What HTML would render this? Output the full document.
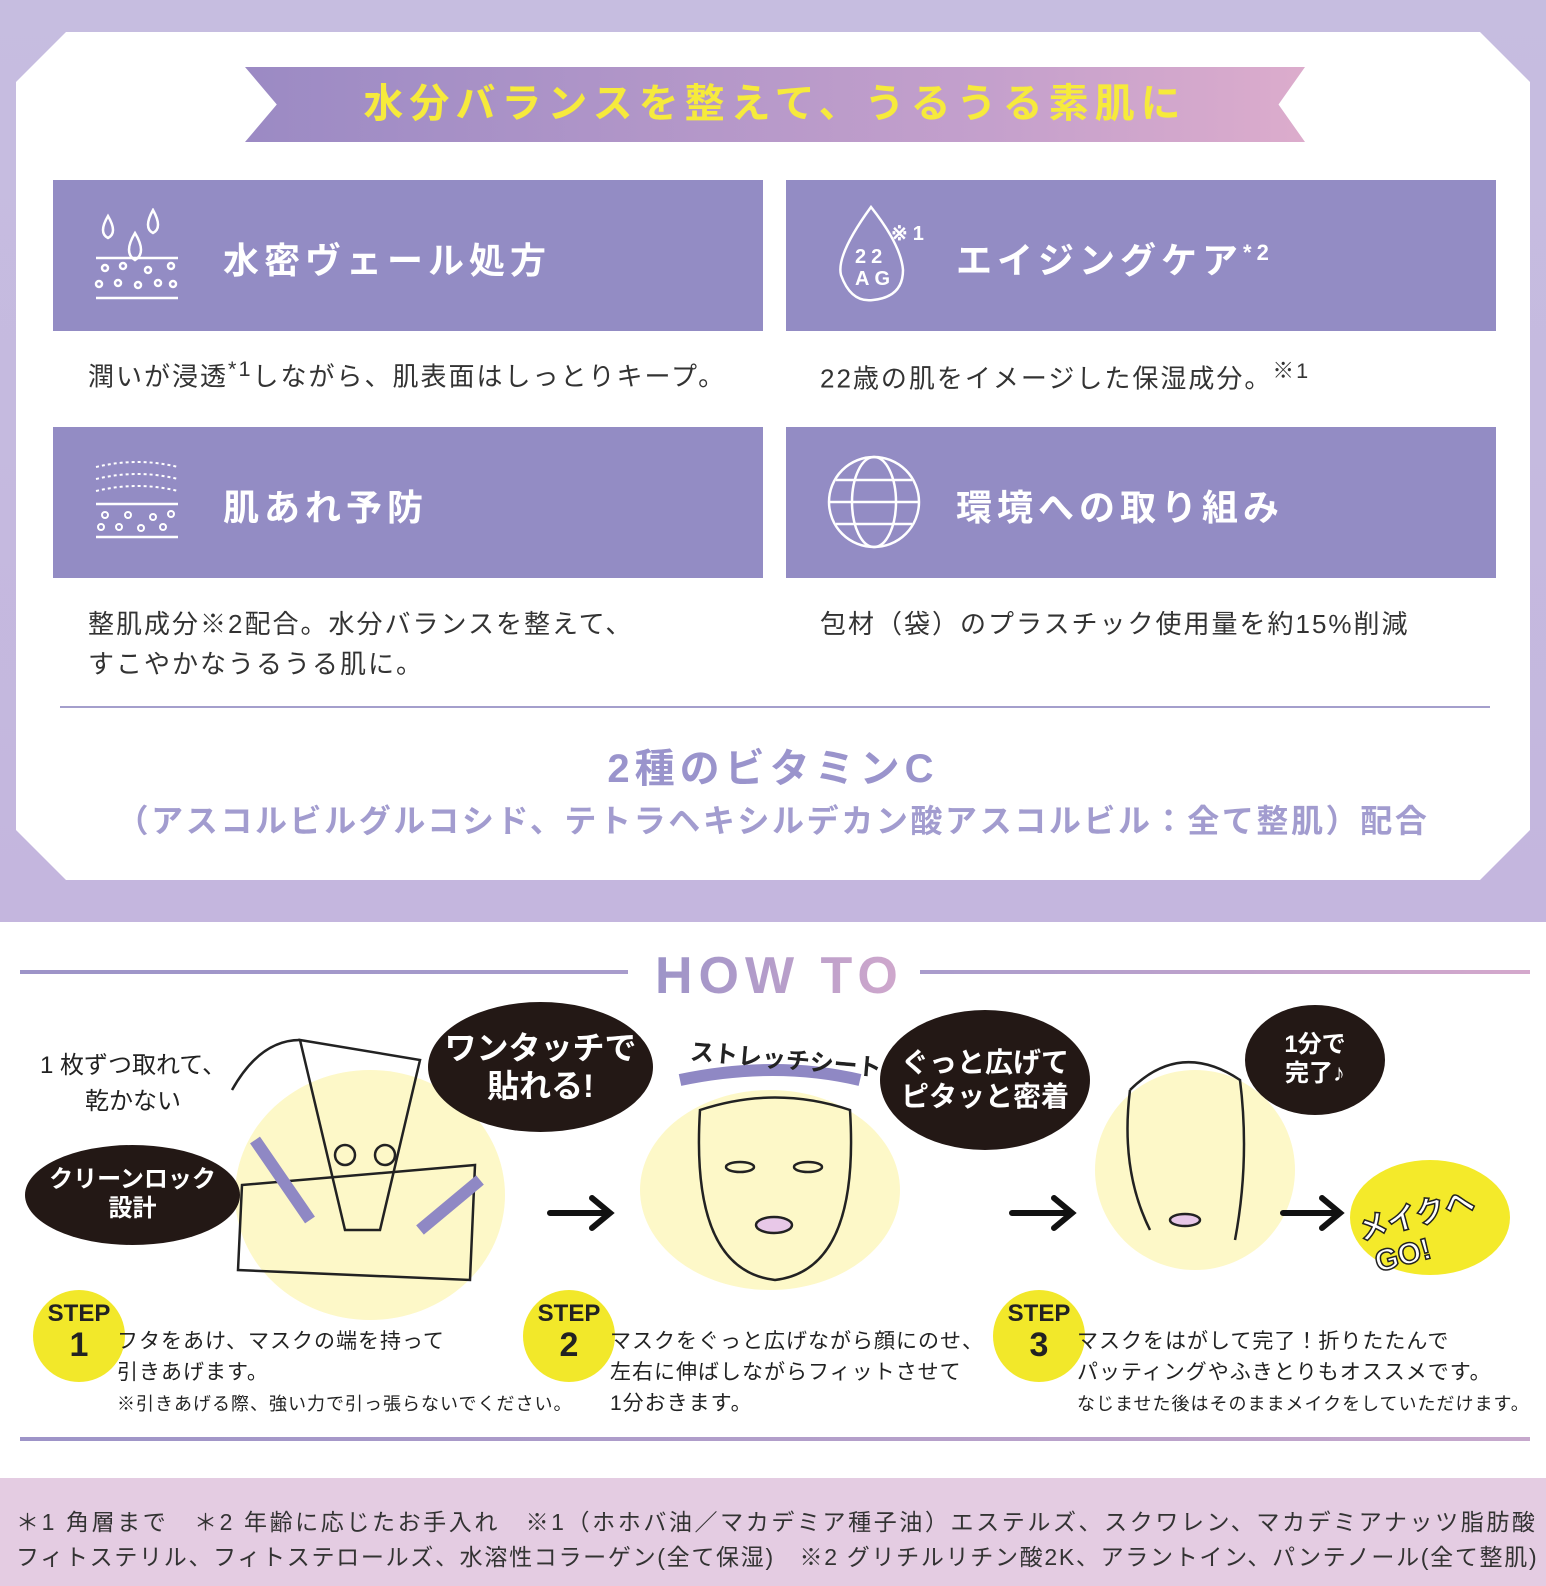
<!DOCTYPE html>
<html><head><meta charset="utf-8"><style>
*{margin:0;padding:0;box-sizing:border-box}
body{width:1546px;height:1586px;position:relative;overflow:hidden;background:#fff;font-family:"Liberation Sans","Noto Sans CJK JP",sans-serif;color:#333}
.a{position:absolute}
.top{left:0;top:0;width:1546px;height:922px;background:linear-gradient(#c6bde0,#c4b6de)}
.panel{left:16px;top:32px;width:1514px;height:848px;background:#fff;clip-path:polygon(50px 0,1464px 0,1514px 50px,1514px 798px,1464px 848px,50px 848px,0 798px,0 50px)}
.banner{left:245px;top:67px;width:1060px;height:75px;background:linear-gradient(90deg,#9b8ac4,#c4a0cc 70%,#dcaccc);clip-path:polygon(0 0,100% 0,97.5% 50%,100% 100%,0 100%,3% 50%);color:#f6ea3c;font-size:40px;font-weight:bold;letter-spacing:6px;text-align:center;line-height:75px}
.box{background:#938cc4;height:151px;width:710px;color:#fff;font-size:36px;font-weight:bold;letter-spacing:5px}
.box span{position:absolute;left:170px;top:52px}
.t{font-size:26px;letter-spacing:2px;color:#333}
.bub{background:#231815;color:#fff;border-radius:50%;font-weight:bold;text-align:center;display:flex;align-items:center;justify-content:center;line-height:1.2}
.yc{background:#fdf8c8;border-radius:50%}
.step{width:92px;height:92px;border-radius:50%;background:#f2e82a;text-align:center;font-weight:bold;color:#222}
.step b{display:block;font-size:24px;margin-top:12px;line-height:24px}
.step i{display:block;font-style:normal;font-size:34px;line-height:38px}
.st{font-size:21px;line-height:31px;color:#222;letter-spacing:1px}
</style></head><body>
<div class="a top"></div>
<div class="a panel"></div>
<div class="a banner">水分バランスを整えて、うるうる素肌に</div>

<div class="a box" style="left:53px;top:180px"><svg class="a" style="left:40px;top:28px" width="90" height="95" viewBox="0 0 90 95" fill="none" stroke="#fff" stroke-width="2.5"><path d="M15 8 Q5 25 15 30 Q25 25 15 8Z M60 2 Q50 20 60 25 Q70 20 60 2Z M42 25 Q30 45 42 52 Q54 45 42 25Z"/><line x1="3" y1="50" x2="85" y2="50"/><line x1="3" y1="90" x2="85" y2="90"/><circle cx="12" cy="60" r="3"/><circle cx="30" cy="58" r="3"/><circle cx="55" cy="62" r="3"/><circle cx="78" cy="58" r="3"/><circle cx="6" cy="76" r="3"/><circle cx="25" cy="75" r="3"/><circle cx="45" cy="77" r="3"/><circle cx="65" cy="75" r="3"/><circle cx="80" cy="76" r="3"/></svg><span>水密ヴェール処方</span></div>
<div class="a box" style="left:786px;top:180px"><svg class="a" style="left:45px;top:25px" width="100" height="100" viewBox="0 0 100 100" fill="none" stroke="#fff" stroke-width="2.5"><path d="M40 2 Q5 50 10 70 Q20 98 42 95 Q72 92 72 65 Q70 40 40 2Z"/><text x="24" y="58" fill="#fff" stroke="none" font-size="20" font-family="Liberation Sans">22</text><text x="24" y="80" fill="#fff" stroke="none" font-size="20" font-family="Liberation Sans">AG</text><text x="60" y="35" fill="#fff" stroke="none" font-size="20" font-family="Liberation Sans">※1</text></svg><span>エイジングケア<sup style="font-size:22px">*2</sup></span></div>
<div class="a t" style="left:88px;top:356px">潤いが浸透<sup>*1</sup>しながら、肌表面はしっとりキープ。</div>
<div class="a t" style="left:820px;top:354px">22歳の肌をイメージした保湿成分。<sup>※1</sup></div>

<div class="a box" style="left:53px;top:427px"><svg class="a" style="left:40px;top:30px" width="90" height="85" viewBox="0 0 90 85" fill="none" stroke="#fff" stroke-width="2"><path d="M3 10 Q45 0 85 10 M3 22 Q45 12 85 22 M3 34 Q45 24 85 34" stroke-dasharray="3 3"/><line x1="3" y1="47" x2="85" y2="47" stroke-width="2.5"/><line x1="3" y1="80" x2="85" y2="80" stroke-width="2.5"/><circle cx="12" cy="58" r="3"/><circle cx="35" cy="58" r="3"/><circle cx="60" cy="60" r="3"/><circle cx="78" cy="57" r="3"/><circle cx="8" cy="70" r="3"/><circle cx="26" cy="70" r="3"/><circle cx="48" cy="71" r="3"/><circle cx="70" cy="70" r="3"/></svg><span>肌あれ予防</span></div>
<div class="a box" style="left:786px;top:427px"><svg class="a" style="left:38px;top:25px" width="100" height="100" viewBox="0 0 100 100" fill="none" stroke="#fff" stroke-width="2.5"><circle cx="50" cy="50" r="45"/><ellipse cx="50" cy="50" rx="22" ry="45"/><line x1="5" y1="50" x2="95" y2="50"/><path d="M12 28 H88 M12 72 H88"/></svg><span>環境への取り組み</span></div>
<div class="a t" style="left:88px;top:604px;line-height:40px">整肌成分※2配合。水分バランスを整えて、<br>すこやかなうるうる肌に。</div>
<div class="a t" style="left:820px;top:604px">包材（袋）のプラスチック使用量を約15%削減</div>

<div class="a" style="left:60px;top:706px;width:1430px;height:2px;background:#a49fcc"></div>
<div class="a" style="left:0;top:736px;width:1546px;text-align:center;font-size:40px;font-weight:bold;color:#9a94cc;letter-spacing:5px">2種のビタミンC</div>
<div class="a" style="left:0;top:796px;width:1546px;text-align:center;font-size:32px;font-weight:bold;color:#a29ccf;letter-spacing:2.6px">（アスコルビルグルコシド、テトラヘキシルデカン酸アスコルビル：全て整肌）配合</div>

<div class="a" style="left:20px;top:970px;width:608px;height:4px;background:linear-gradient(90deg,#9d94c8,#a89ccc)"></div>
<div class="a" style="left:920px;top:970px;width:610px;height:4px;background:linear-gradient(90deg,#a99ccc,#d4a8cc)"></div>
<div class="a" style="left:655px;top:946px;font-size:52px;font-weight:bold;letter-spacing:6px;background:linear-gradient(90deg,#9d94c8,#d0a8cc);-webkit-background-clip:text;color:transparent">HOW TO</div>

<div class="a yc" style="left:235px;top:1070px;width:270px;height:250px"></div>
<div class="a yc" style="left:640px;top:1090px;width:260px;height:200px"></div>
<div class="a yc" style="left:1095px;top:1070px;width:200px;height:200px"></div>
<div class="a yc" style="left:1350px;top:1160px;width:160px;height:115px;background:#f4ea2a"></div>
<div class="a" style="left:1360px;top:1190px;font-size:30px;font-weight:bold;color:#fff;-webkit-text-stroke:1.5px #222;transform:rotate(-15deg)">メイクへ<br>&nbsp;GO!</div>

<svg class="a" style="left:0;top:1000px" width="1546" height="300" fill="none" stroke="#222" stroke-width="2.5">
<path d="M300 40 L420 60 L380 230 L345 230 Z"/><circle cx="345" cy="155" r="10"/><circle cx="385" cy="155" r="10"/><path d="M242 185 L475 165 L470 280 L238 270 Z"/><path d="M232 90 Q260 40 300 40"/>
<path d="M255 140 L310 220" stroke="#8f88c4" stroke-width="12"/><path d="M420 230 L480 180" stroke="#8f88c4" stroke-width="12"/>
<path d="M680 80 Q775 60 860 80" stroke="#8f88c4" stroke-width="12"/>
<path d="M700 110 Q690 270 775 280 Q860 270 850 110 Q775 85 700 110Z"/><ellipse cx="740" cy="167" rx="14" ry="5"/><ellipse cx="808" cy="167" rx="14" ry="5"/><ellipse cx="774" cy="225" rx="18" ry="8" fill="#e8c8e8"/>
<path d="M1130 90 Q1180 40 1240 80 Q1250 160 1235 240 M1130 90 Q1120 170 1150 230"/><ellipse cx="1185" cy="220" rx="15" ry="6" fill="#e8c8e8"/>
<g stroke="#111" stroke-width="6" stroke-linecap="round"><path d="M550 213 H608 M592 198 L610 213 L592 228"/><path d="M1012 213 H1070 M1054 198 L1072 213 L1054 228"/><path d="M1283 213 H1338 M1322 198 L1340 213 L1322 228"/></g>
</svg>

<div class="a" style="left:40px;top:1048px;font-size:24px;line-height:36px;text-align:center;color:#222">1 枚ずつ取れて、<br>乾かない</div>
<div class="a bub" style="left:25px;top:1145px;width:215px;height:100px;font-size:24px">クリーンロック<br>設計</div>
<div class="a bub" style="left:428px;top:1002px;width:225px;height:130px;font-size:32px">ワンタッチで<br>貼れる!</div>
<div class="a" style="left:690px;top:1040px;font-size:24px;font-weight:bold;color:#222;transform:rotate(5deg)">ストレッチシート</div>
<div class="a bub" style="left:880px;top:1010px;width:210px;height:140px;font-size:28px">ぐっと広げて<br>ピタッと密着</div>
<div class="a bub" style="left:1245px;top:1005px;width:140px;height:110px;font-size:24px">1分で<br>完了♪</div>

<div class="a step" style="left:33px;top:1290px"><b>STEP</b><i>1</i></div>
<div class="a step" style="left:523px;top:1290px"><b>STEP</b><i>2</i></div>
<div class="a step" style="left:993px;top:1290px"><b>STEP</b><i>3</i></div>
<div class="a st" style="left:117px;top:1326px">フタをあけ、マスクの端を持って<br>引きあげます。<br><span style="font-size:18px">※引きあげる際、強い力で引っ張らないでください。</span></div>
<div class="a st" style="left:610px;top:1326px">マスクをぐっと広げながら顔にのせ、<br>左右に伸ばしながらフィットさせて<br>1分おきます。</div>
<div class="a st" style="left:1077px;top:1326px">マスクをはがして完了！折りたたんで<br>パッティングやふきとりもオススメです。<br><span style="font-size:18px">なじませた後はそのままメイクをしていただけます。</span></div>

<div class="a" style="left:20px;top:1437px;width:1510px;height:4px;background:linear-gradient(90deg,#9d94c8,#c6a8cc)"></div>
<div class="a" style="left:0;top:1478px;width:1546px;height:108px;background:#e4cce2"></div>
<div class="a" style="left:16px;top:1505px;font-size:23px;line-height:35px;color:#333;white-space:nowrap;letter-spacing:2.6px">＊1 角層まで　＊2 年齢に応じたお手入れ　※1（ホホバ油／マカデミア種子油）エステルズ、スクワレン、マカデミアナッツ脂肪酸<br><span style="letter-spacing:1.7px">フィトステリル、フィトステロールズ、水溶性コラーゲン(全て保湿)　※2 グリチルリチン酸2K、アラントイン、パンテノール(全て整肌)</span></div>
</body></html>
